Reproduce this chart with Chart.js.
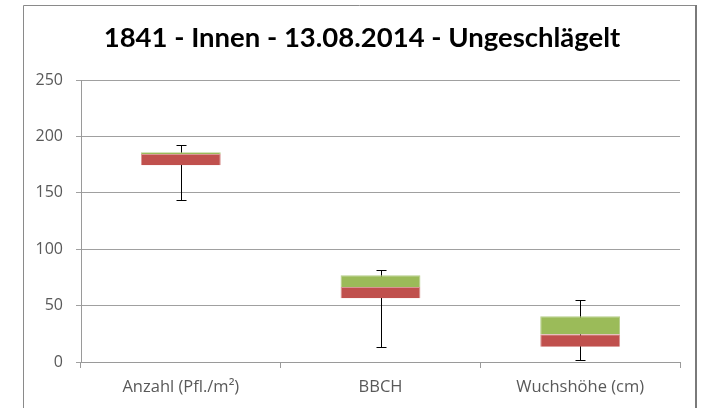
<!DOCTYPE html>
<html>
<head>
<meta charset="utf-8">
<script src="https://cdn.jsdelivr.net/npm/chart.js@4/dist/chart.umd.min.js"></script>
<style>
html,body{margin:0;padding:0;background:#fff;}
#wrap{width:702px;height:408px;position:relative;}
</style>
</head>
<body>
<div id="wrap"><canvas id="c" width="702" height="408"></canvas></div>
<script>
const titleText = '1841 - Innen - 13.08.2014 - Ungeschlägelt';
const categories = ['Anzahl (Pfl./m²)', 'BBCH', 'Wuchshöhe (cm)'];
const minVals = [144, 13, 2];
const q1Vals = [174.5, 56.5, 13.5];
const medianVals = [184.5, 66.5, 24.5];
const q3Vals = [186, 77, 40.5];
const maxVals = [192, 82, 55];
const yMin = 0, yMax = 250, yStep = 50;

const lowerBox = medianVals.map((m, i) => m - q1Vals[i]);
const upperBox = q3Vals.map((q, i) => q - medianVals[i]);

const framePlugin = {
  id: 'frame',
  beforeDraw(chart) {
    const ctx = chart.ctx;
    ctx.save();
    ctx.fillStyle = '#fff';
    ctx.fillRect(0, 0, chart.width, chart.height);
    ctx.strokeStyle = '#8a8a8a';
    ctx.lineWidth = 1;
    ctx.beginPath();
    ctx.moveTo(23.5, 420);
    ctx.lineTo(23.5, 5.5);
    ctx.lineTo(695.5, 5.5);
    ctx.stroke();
    ctx.strokeStyle = '#7a7a7a';
    ctx.lineWidth = 2;
    ctx.beginPath();
    ctx.moveTo(696, 5);
    ctx.lineTo(696, 420);
    ctx.stroke();
    ctx.restore();
  }
};

const whiskerPlugin = {
  id: 'whiskers',
  beforeDatasetsDraw(chart) {
    const ctx = chart.ctx;
    const xs = chart.scales.x, ys = chart.scales.y;
    ctx.save();
    ctx.strokeStyle = '#000';
    ctx.lineWidth = 1;
    categories.forEach((c, i) => {
      const x = Math.round(xs.getPixelForValue(i)) + 0.5;
      const yTop = Math.round(ys.getPixelForValue(maxVals[i])) + 0.5;
      const yBot = Math.round(ys.getPixelForValue(minVals[i])) + 0.5;
      ctx.beginPath();
      ctx.moveTo(x, yTop); ctx.lineTo(x, yBot);
      ctx.moveTo(x - 5, yTop); ctx.lineTo(x + 5, yTop);
      ctx.moveTo(x - 5, yBot); ctx.lineTo(x + 5, yBot);
      ctx.stroke();
    });
    ctx.restore();
  }
};

new Chart(document.getElementById('c'), {
  type: 'bar',
  data: {
    labels: categories,
    datasets: [
      { label: 'Q1', data: q1Vals, backgroundColor: 'rgba(0,0,0,0)', borderWidth: 0 },
      { label: 'Median', data: lowerBox, backgroundColor: '#C0504D', borderColor: '#D99694', borderWidth: 1 },
      { label: 'Q3', data: upperBox, backgroundColor: '#9BBB59', borderColor: '#B5CD89', borderWidth: 1 }
    ]
  },
  options: {
    responsive: false,
    animation: false,
    layout: { padding: { left: 23, right: 1, top: 0, bottom: 0 } },
    datasets: { bar: { categoryPercentage: 1, barPercentage: 0.4 } },
    plugins: {
      legend: { display: false },
      tooltip: { enabled: false },
      title: {
        display: true,
        text: titleText,
        color: '#000',
        font: { family: 'Lato', size: 27.5, weight: 'bold' },
        padding: { top: 22, bottom: 25 }
      }
    },
    scales: {
      x: {
        stacked: true,
        grid: { display: true, drawOnChartArea: false, drawTicks: true, tickLength: 6, color: '#9a9a9a', offset: true },
        border: { color: '#9a9a9a' },
        ticks: { color: '#595959', font: { family: 'Open Sans', size: 16.5 }, padding: 9, maxRotation: 0 },
        afterFit(s) { s.height = 46; }
      },
      y: {
        stacked: true,
        position: 'left',
        min: yMin, max: yMax,
        grid: { color: '#a0a0a0', tickLength: 5 },
        border: { color: '#9a9a9a' },
        ticks: { stepSize: yStep, color: '#595959', font: { family: 'Open Sans', size: 16 }, padding: 13 },
        afterFit(s) { s.width = 58; }
      },
      yRight: {
        position: 'right',
        display: true,
        min: yMin, max: yMax,
        grid: { display: false },
        border: { display: false },
        ticks: { display: false },
        afterFit(s) { s.width = 21; }
      }
    }
  },
  plugins: [framePlugin, whiskerPlugin]
});
</script>
</body>
</html>
